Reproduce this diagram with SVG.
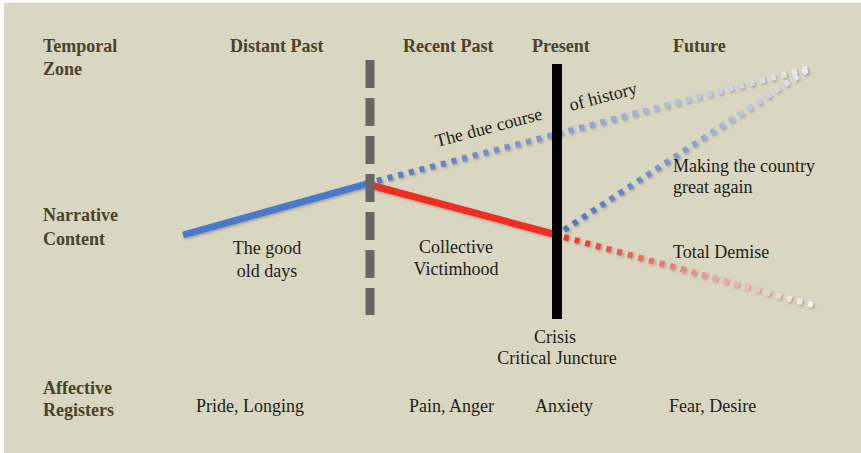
<svg xmlns="http://www.w3.org/2000/svg" width="861" height="453" viewBox="0 0 861 453">
<defs>
<style>
.hd{font-family:"Liberation Serif","DejaVu Serif",serif;font-weight:bold;font-size:18px;fill:#4a4328}
.tx{font-family:"Liberation Serif","DejaVu Serif",serif;font-size:18px;fill:#1f1d18}
.dot{fill:none;stroke-width:6;stroke-dasharray:5 6;filter:url(#sh)}
</style>
<filter id="sh" x="-10%" y="-50%" width="120%" height="200%">
<feDropShadow dx="1.5" dy="1.5" stdDeviation="1" flood-color="#6b6650" flood-opacity="0.45"/>
</filter>
<linearGradient id="gb1" gradientUnits="userSpaceOnUse" x1="375" y1="182" x2="813" y2="67">
<stop offset="0" stop-color="#4f78c8"/><stop offset="0.5" stop-color="#8aa6d8"/><stop offset="1" stop-color="#eceef0"/>
</linearGradient>
<linearGradient id="gb2" gradientUnits="userSpaceOnUse" x1="562" y1="232" x2="810" y2="68">
<stop offset="0" stop-color="#4a73c6"/><stop offset="0.5" stop-color="#7f9dd6"/><stop offset="1" stop-color="#eef0f2"/>
</linearGradient>
<linearGradient id="gr" gradientUnits="userSpaceOnUse" x1="562" y1="236" x2="813" y2="305">
<stop offset="0" stop-color="#ee3226"/><stop offset="0.5" stop-color="#ec8a86"/><stop offset="1" stop-color="#f7f2ef"/>
</linearGradient>
</defs>
<rect x="0" y="0" width="861" height="453" fill="#ffffff"/>
<rect x="4" y="3" width="857" height="450" fill="#d9d6c1"/>

<g id="connectors">
<line x1="183" y1="235" x2="370" y2="183" stroke="#4a78cc" stroke-width="7" filter="url(#sh)"/>
<line x1="370" y1="185" x2="557" y2="235" stroke="#ee2f24" stroke-width="7" filter="url(#sh)"/>
<line class="dot" x1="377" y1="181" x2="813" y2="67" stroke="url(#gb1)"/>
<line class="dot" x1="564" y1="230" x2="810" y2="68" stroke="url(#gb2)"/>
<line class="dot" x1="564" y1="237" x2="813" y2="305" stroke="url(#gr)"/>
</g>

<g id="dashed-divider">
<line x1="370" y1="60" x2="370" y2="315" stroke="#666666" stroke-width="9" stroke-dasharray="28 10"/>
</g>
<g id="present-divider">
<rect x="552" y="64" width="10" height="255" fill="#000000"/>
</g>

<g id="row-headers">
<text class="hd" x="43" y="52">Temporal</text>
<text class="hd" x="43" y="75">Zone</text>
<text class="hd" x="43" y="221">Narrative</text>
<text class="hd" x="43" y="245">Content</text>
<text class="hd" x="43" y="394">Affective</text>
<text class="hd" x="43" y="416">Registers</text>
</g>

<g id="zone-headers">
<text class="hd" x="230" y="52">Distant Past</text>
<text class="hd" x="403" y="52">Recent Past</text>
<text class="hd" x="532" y="52">Present</text>
<text class="hd" x="673" y="52">Future</text>
</g>

<g id="narratives">
<text class="tx" x="267" y="254" text-anchor="middle">The good</text>
<text class="tx" x="267" y="277" text-anchor="middle">old days</text>
<text class="tx" x="456" y="253" text-anchor="middle">Collective</text>
<text class="tx" x="456" y="275" text-anchor="middle">Victimhood</text>
<text class="tx" x="555" y="343" text-anchor="middle">Crisis</text>
<text class="tx" x="557" y="364" text-anchor="middle">Critical Juncture</text>
<text class="tx" x="673" y="172">Making the country</text>
<text class="tx" x="673" y="193">great again</text>
<text class="tx" x="673" y="258">Total Demise</text>
<text class="tx" transform="translate(437,147) rotate(-14.7)">The due course</text>
<text class="tx" transform="translate(571,111) rotate(-14.7)">of history</text>
</g>

<g id="affects">
<text class="tx" x="196" y="412">Pride, Longing</text>
<text class="tx" x="409" y="412">Pain, Anger</text>
<text class="tx" x="535" y="412">Anxiety</text>
<text class="tx" x="669" y="412">Fear, Desire</text>
</g>
</svg>
